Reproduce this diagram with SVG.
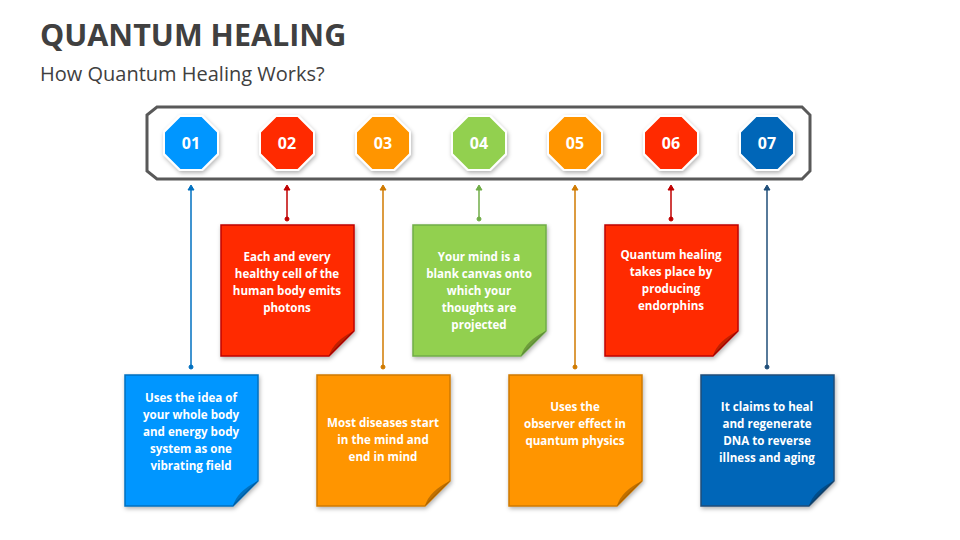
<svg xmlns="http://www.w3.org/2000/svg" width="960" height="540" viewBox="0 0 960 540">
<defs>
<style>
.t{font-family:"Open Sans","Liberation Sans",sans-serif;}
.h{font-size:30.5px;font-weight:bold;fill:#404040}
.s{font-size:20px;fill:#404040}
.n{font-size:16px;font-weight:bold;fill:#fff;text-anchor:middle}
.c{font-size:11.6px;font-weight:bold;fill:#fff;text-anchor:middle}
.oct{stroke:#fff;stroke-width:2}
.ln line{stroke-width:1.5}
</style>
<filter id="sh" x="-20%" y="-20%" width="140%" height="140%"><feDropShadow dx="1" dy="2" stdDeviation="2" flood-opacity="0.3"/></filter>
<polygon id="o" points="-11,-27 11,-27 27,-11 27,11 11,27 -11,27 -27,11 -27,-11"/>
<path id="card" d="M0,0 H133 V106 L108,131 H0 Z"/>
<path id="fold" d="M133,106 L108,131 Q112,116 133,106 Z" fill="#000" fill-opacity="0.25"/>
</defs>
<text class="t h" x="40" y="46">QUANTUM HEALING</text>
<text class="t s" x="40" y="81">How Quantum Healing Works?</text>
<path d="M157,107 H802 L810,115 V171 L802,179 H157 L147,171 V115 Z" fill="#fff" stroke="#595959" stroke-width="3"/>
<g id="connectors">
<g stroke="#0070C0" fill="#0070C0" class="ln"><line x1="191" y1="188" x2="191" y2="366"/><path d="M188,190 L191,185 L194,190Z"/><circle cx="191" cy="367" r="2"/></g>
<g stroke="#C00000" fill="#C00000" class="ln"><line x1="287" y1="188" x2="287" y2="218"/><path d="M284,190 L287,185 L290,190Z"/><circle cx="287" cy="219" r="2"/></g>
<g stroke="#D07A00" fill="#D07A00" class="ln"><line x1="383" y1="188" x2="383" y2="366"/><path d="M380,190 L383,185 L386,190Z"/><circle cx="383" cy="367" r="2"/></g>
<g stroke="#70AD47" fill="#70AD47" class="ln"><line x1="479" y1="188" x2="479" y2="218"/><path d="M476,190 L479,185 L482,190Z"/><circle cx="479" cy="219" r="2"/></g>
<g stroke="#D07A00" fill="#D07A00" class="ln"><line x1="575" y1="188" x2="575" y2="366"/><path d="M572,190 L575,185 L578,190Z"/><circle cx="575" cy="367" r="2"/></g>
<g stroke="#C00000" fill="#C00000" class="ln"><line x1="671" y1="188" x2="671" y2="218"/><path d="M668,190 L671,185 L674,190Z"/><circle cx="671" cy="219" r="2"/></g>
<g stroke="#1F4E79" fill="#1F4E79" class="ln"><line x1="767" y1="188" x2="767" y2="366"/><path d="M764,190 L767,185 L770,190Z"/><circle cx="767" cy="367" r="2"/></g>
</g>
<g id="n01"><use href="#o" x="191" y="143" fill="#0096FF" class="oct" filter="url(#sh)"/><text class="t n" x="191" y="149">01</text></g>
<g id="n02"><use href="#o" x="287" y="143" fill="#FF2A00" class="oct" filter="url(#sh)"/><text class="t n" x="287" y="149">02</text></g>
<g id="n03"><use href="#o" x="383" y="143" fill="#FF9500" class="oct" filter="url(#sh)"/><text class="t n" x="383" y="149">03</text></g>
<g id="n04"><use href="#o" x="479" y="143" fill="#92D050" class="oct" filter="url(#sh)"/><text class="t n" x="479" y="149">04</text></g>
<g id="n05"><use href="#o" x="575" y="143" fill="#FF9500" class="oct" filter="url(#sh)"/><text class="t n" x="575" y="149">05</text></g>
<g id="n06"><use href="#o" x="671" y="143" fill="#FF2A00" class="oct" filter="url(#sh)"/><text class="t n" x="671" y="149">06</text></g>
<g id="n07"><use href="#o" x="767" y="143" fill="#0066B8" class="oct" filter="url(#sh)"/><text class="t n" x="767" y="149">07</text></g>

<g id="c01" transform="translate(125,375)"><use href="#card" fill="#0096FF" stroke="#0070C0" stroke-width="1.5" filter="url(#sh)"/><use href="#fold"/>
<text class="t c"><tspan x="66" y="27">Uses the idea of</tspan><tspan x="66" y="44">your whole body</tspan><tspan x="66" y="61">and energy body</tspan><tspan x="66" y="78">system as one</tspan><tspan x="66" y="95">vibrating field</tspan></text></g>
<g id="c02" transform="translate(221,225)"><use href="#card" fill="#FF2A00" stroke="#C00000" stroke-width="1.5" filter="url(#sh)"/><use href="#fold"/>
<text class="t c"><tspan x="66" y="36">Each and every</tspan><tspan x="66" y="53">healthy cell of the</tspan><tspan x="66" y="70">human body emits</tspan><tspan x="66" y="87">photons</tspan></text></g>
<g id="c03" transform="translate(317,375)"><use href="#card" fill="#FF9500" stroke="#D07A00" stroke-width="1.5" filter="url(#sh)"/><use href="#fold"/>
<text class="t c"><tspan x="66" y="52">Most diseases start</tspan><tspan x="66" y="69">in the mind and</tspan><tspan x="66" y="86">end in mind</tspan></text></g>
<g id="c04" transform="translate(413,225)"><use href="#card" fill="#92D050" stroke="#70AD47" stroke-width="1.5" filter="url(#sh)"/><use href="#fold"/>
<text class="t c"><tspan x="66" y="36">Your mind is a</tspan><tspan x="66" y="53">blank canvas onto</tspan><tspan x="66" y="70">which your</tspan><tspan x="66" y="87">thoughts are</tspan><tspan x="66" y="104">projected</tspan></text></g>
<g id="c05" transform="translate(509,375)"><use href="#card" fill="#FF9500" stroke="#D07A00" stroke-width="1.5" filter="url(#sh)"/><use href="#fold"/>
<text class="t c"><tspan x="66" y="36">Uses the</tspan><tspan x="66" y="53">observer effect in</tspan><tspan x="66" y="70">quantum physics</tspan></text></g>
<g id="c06" transform="translate(605,225)"><use href="#card" fill="#FF2A00" stroke="#C00000" stroke-width="1.5" filter="url(#sh)"/><use href="#fold"/>
<text class="t c"><tspan x="66" y="34">Quantum healing</tspan><tspan x="66" y="51">takes place by</tspan><tspan x="66" y="68">producing</tspan><tspan x="66" y="85">endorphins</tspan></text></g>
<g id="c07" transform="translate(701,375)"><use href="#card" fill="#0066B8" stroke="#1F4E79" stroke-width="1.5" filter="url(#sh)"/><use href="#fold"/>
<text class="t c"><tspan x="66" y="36">It claims to heal</tspan><tspan x="66" y="53">and regenerate</tspan><tspan x="66" y="70">DNA to reverse</tspan><tspan x="66" y="87">illness and aging</tspan></text></g>
</svg>
